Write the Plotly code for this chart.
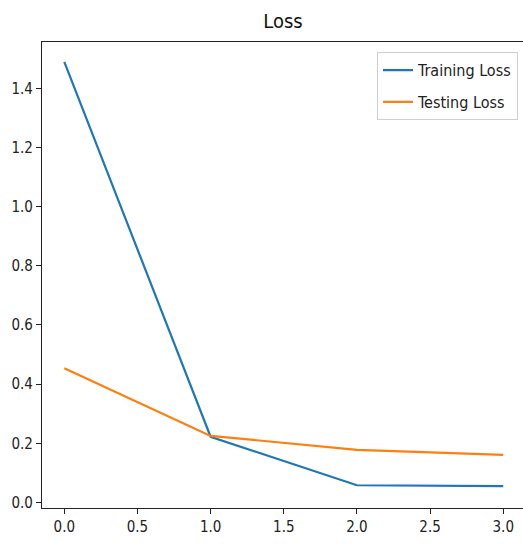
import plotly.graph_objects as go

epochs = [0, 1, 2, 3]
train_loss = [1.49, 0.222, 0.058, 0.055]
test_loss = [0.454, 0.225, 0.178, 0.161]
series_names = ["Training Loss", "Testing Loss"]
x_ticks = [0.0, 0.5, 1.0, 1.5, 2.0, 2.5, 3.0]
y_ticks = [0.0, 0.2, 0.4, 0.6, 0.8, 1.0, 1.2, 1.4]

FONT = "DejaVu Sans Condensed, Liberation Sans Narrow, DejaVu Sans, sans-serif"

fig = go.Figure()
fig.add_trace(go.Scatter(x=epochs, y=train_loss, mode="lines", name=series_names[0],
                         legendgroup="a", line=dict(color="#1f77b4", width=2.2)))
fig.add_trace(go.Scatter(x=epochs, y=test_loss, mode="lines", name=series_names[1],
                         legendgroup="b", line=dict(color="#ff7f0e", width=2.2)))

fig.update_layout(
    width=523, height=544,
    margin=dict(l=42, r=0, t=42, b=36),
    paper_bgcolor="white", plot_bgcolor="white",
    font=dict(family=FONT, size=15, color="#222"),
    title=dict(text="Loss", x=(283 / 523), xanchor="center", y=1 - 21 / 544, yanchor="middle",
               font=dict(family=FONT, size=20, color="#111")),
    showlegend=True,
    legend=dict(x=0.9896, xanchor="right", y=0.978, yanchor="top",
                traceorder="grouped", tracegroupgap=8,
                bgcolor="white", bordercolor="#d0d0d0", borderwidth=1,
                font=dict(family=FONT, size=16, color="#222")),
    xaxis=dict(range=[-0.1524, 3.135], tickvals=x_ticks, tickformat=".1f",
               showgrid=False, zeroline=False, showline=True, linecolor="#222", linewidth=1.3,
               mirror=True, ticks="outside", ticklen=5, tickcolor="#222", tickwidth=1.2),
    yaxis=dict(range=[-0.0189, 1.557], tickvals=y_ticks, tickformat=".1f",
               showgrid=False, zeroline=False, showline=True, linecolor="#222", linewidth=1.3,
               mirror=False, ticks="outside", ticklen=5, tickcolor="#222", tickwidth=1.2),
)

fig.write_html("out.html", config={"displayModeBar": False},
               post_script="document.body.style.margin='0';document.body.style.overflow='hidden';")
